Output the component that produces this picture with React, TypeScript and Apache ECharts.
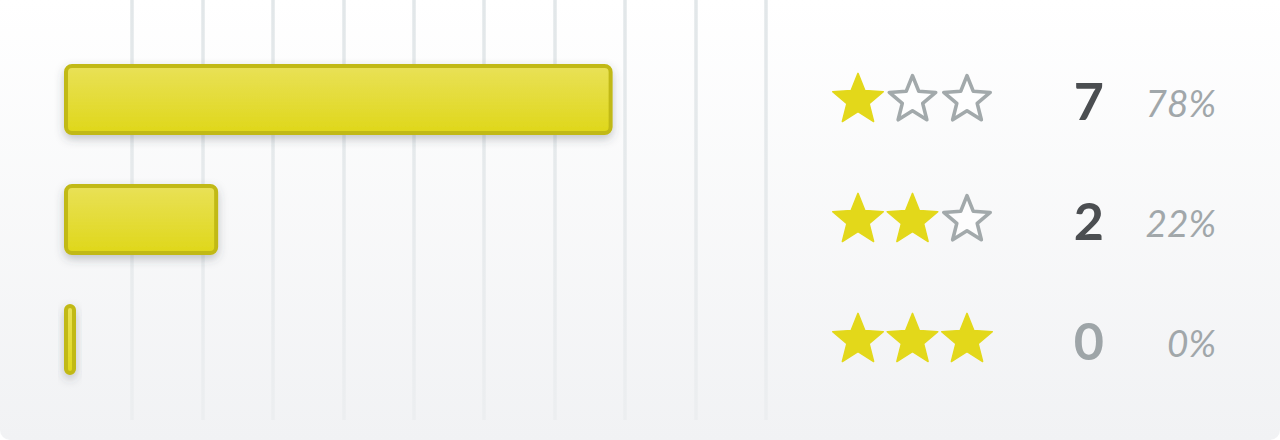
import React, { useEffect, useRef } from "react";
import * as echarts from "echarts";

const categories = ["1 star", "2 stars", "3 stars"];
const filledStars = [1, 2, 3];
const counts = [7, 2, 0];
const percents = [78, 22, 0];
const percentLabels = ["78%", "22%", "0%"];
const axisMin = 0;
const axisMax = 100;
const axisInterval = 10;

function starPoints(cx: number, cy: number, R: number, ratio: number) {
  const pts: number[][] = [];
  for (let k = 0; k < 10; k++) {
    const a = ((-90 + k * 36) * Math.PI) / 180;
    const rad = k % 2 === 0 ? R : R * ratio;
    pts.push([cx + rad * Math.cos(a), cy + rad * Math.sin(a)]);
  }
  return pts;
}

export default function App() {
  const ref = useRef<HTMLDivElement>(null);
  useEffect(() => {
    if (!ref.current) return;
    const chart = echarts.init(ref.current, undefined, { renderer: "svg" });

    const barFill = new echarts.graphic.LinearGradient(0, 0, 0, 1, [
      { offset: 0, color: "#e9e157" },
      { offset: 1, color: "#dfd71a" },
    ]);
    const lineColor = new echarts.graphic.LinearGradient(
      0,
      0,
      0,
      420,
      [
        { offset: 0, color: "#e2e7e9" },
        { offset: 1, color: "#eceef0" },
      ],
      true
    );

    const barRender = (params: any, api: any) => {
      const v = api.value(0);
      const idx = api.value(1);
      const start = api.coord([0, idx]);
      const end = api.coord([v, idx]);
      const x0 = start[0] + 4.4;
      const w = Math.max(end[0] - x0 - 0.4, 8);
      const h = 67;
      return {
        type: "rect",
        shape: { x: x0, y: start[1] - h / 2, width: w, height: h, r: 6 },
        style: {
          fill: barFill,
          stroke: "#c1b914",
          lineWidth: 4,
          shadowBlur: 10,
          shadowOffsetY: 4,
          shadowColor: "rgba(60,70,80,0.3)",
        },
      };
    };

    const rowRender = (params: any, api: any) => {
      const i = params.dataIndex;
      const idx = api.value(1);
      const y = api.coord([0, idx])[1];
      const children: any[] = [];
      const starX = [858, 912.5, 967];
      for (let s = 0; s < 3; s++) {
        const filled = s < filledStars[i];
        children.push({
          type: "polygon",
          shape: {
            points: starPoints(starX[s], y + 0.5, filled ? 26.6 : 24.4, 0.44),
          },
          style: filled
            ? { fill: "#e3d81a", stroke: "#e3d81a", lineWidth: 1.5, lineJoin: "round" }
            : { fill: "rgba(255,255,255,0.7)", stroke: "#a2a9ab", lineWidth: 3.6, lineJoin: "round" },
        });
      }
      children.push({
        type: "text",
        x: 1104,
        y: y,
        style: {
          text: String(counts[i]),
          fill: counts[i] > 0 ? "#4b4e51" : "#9ea5a8",
          fontFamily: "Lato",
          fontWeight: "bold",
          fontSize: 52,
          align: "right",
          verticalAlign: "middle",
        },
      });
      children.push({
        type: "text",
        x: 1216,
        y: y + 3,
        style: {
          text: percentLabels[i],
          fill: "#a1a7aa",
          fontFamily: "Lato",
          fontStyle: "italic",
          fontSize: 37,
          align: "right",
          verticalAlign: "middle",
        },
      });
      return { type: "group", children };
    };

    chart.setOption({
      animation: false,
      grid: [
        { left: 61.6, width: 704.4, top: 0, height: 420 },
        { left: 61.6, width: 704.4, top: 39.5, height: 360 },
      ],
      xAxis: [
        {
          gridIndex: 0,
          type: "value",
          min: axisMin,
          max: axisMax,
          interval: axisInterval,
          axisLine: { show: false },
          axisTick: { show: false },
          axisLabel: { show: false },
          splitLine: {
            show: true,
            showMinLine: false,
            lineStyle: { color: lineColor, width: 3.5 },
          },
        },
        { gridIndex: 1, type: "value", min: axisMin, max: axisMax, show: false },
      ],
      yAxis: [
        { gridIndex: 0, type: "value", min: 0, max: 1, show: false },
        { gridIndex: 1, type: "category", data: categories, inverse: true, show: false },
      ],
      series: [
        {
          type: "custom",
          xAxisIndex: 1,
          yAxisIndex: 1,
          clip: false,
          silent: true,
          encode: { x: 0, y: 1 },
          data: percents.map((p, i) => [p, i]),
          renderItem: barRender,
        },
        {
          type: "custom",
          xAxisIndex: 1,
          yAxisIndex: 1,
          clip: false,
          silent: true,
          encode: { x: 0, y: 1 },
          data: categories.map((_c, i) => [0, i]),
          renderItem: rowRender,
        },
      ],
    });
    return () => chart.dispose();
  }, []);

  return (
    <div
      style={{
        position: "fixed",
        left: 0,
        top: 0,
        width: 1280,
        height: 440,
        background: "linear-gradient(180deg, #ffffff 0%, #f1f2f4 100%)",
        borderRadius: "0 0 10px 10px",
      }}
    >
      <div ref={ref} style={{ width: 1280, height: 440 }} />
    </div>
  );
}
